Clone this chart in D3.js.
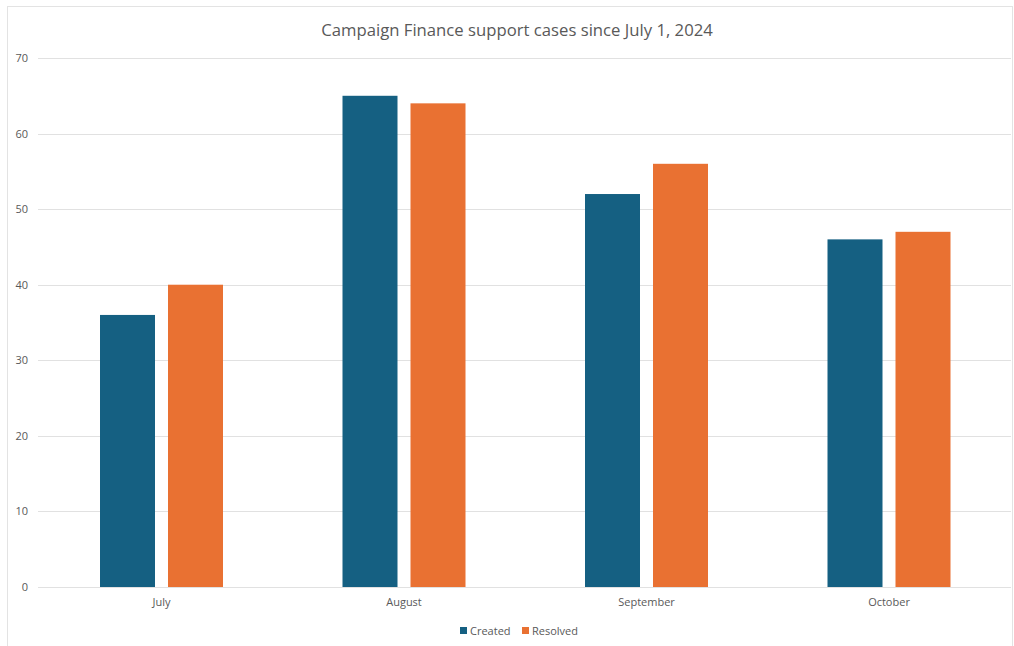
<!DOCTYPE html>
<html><head><meta charset="utf-8">
<script src="https://cdn.jsdelivr.net/npm/d3@7"></script>
<style>body{margin:0;background:#fff;}svg{display:block;}</style>
</head><body>
<svg id="c" width="1014" height="646"></svg>
<script>
const categories = ["July", "August", "September", "October"];
const seriesNames = ["Created", "Resolved"];
const created = [36, 65, 52, 46];
const resolved = [40, 64, 56, 47];
const yTicks = [0, 10, 20, 30, 40, 50, 60, 70];
const colors = ["#156082", "#E97132"];
const font = "'Open Sans', sans-serif";

const svg = d3.select("#c");
svg.append("rect").attr("x", 7.5).attr("y", 6.5).attr("width", 1005).attr("height", 650)
  .attr("fill", "#fff").attr("stroke", "#e3e3e3");

const x0 = d3.scaleBand().domain(categories).range([40.25, 1010.25]).paddingInner(0).paddingOuter(0);
const y = d3.scaleLinear().domain([0, 70]).range([587, 58]);

const grid = svg.append("g");
grid.selectAll("line").data(yTicks).join("line")
  .attr("x1", 38).attr("x2", 1011)
  .attr("y1", d => Math.round(y(d)) + 0.5).attr("y2", d => Math.round(y(d)) + 0.5)
  .attr("stroke", "#e1e1e1").attr("stroke-width", 1);

const yAxis = d3.axisLeft(y).tickValues(yTicks).tickSize(0).tickPadding(0);
const ga = svg.append("g").attr("transform", "translate(28,0)").call(yAxis);
ga.select(".domain").remove();
ga.selectAll("text").attr("font-family", font).attr("font-size", 11).attr("fill", "#595959");

const xAxis = d3.axisBottom(x0).tickSize(0).tickPadding(0);
const gx = svg.append("g").attr("transform", "translate(0,598)").call(xAxis);
gx.select(".domain").remove();
gx.selectAll("text").attr("font-family", font).attr("font-size", 11).attr("fill", "#595959").attr("dy", "0.71em");

const barW = 55, gap = 13;
const data = categories.map((c, i) => ({c, vals: [created[i], resolved[i]]}));
const groups = svg.append("g").selectAll("g").data(data).join("g")
  .attr("transform", d => `translate(${x0(d.c) + x0.bandwidth() / 2},0)`);
groups.selectAll("rect").data(d => d.vals.map((v, k) => ({v, k}))).join("rect")
  .attr("x", d => d.k === 0 ? -(barW + gap / 2) : gap / 2)
  .attr("width", barW)
  .attr("y", d => y(d.v))
  .attr("height", d => y(0) - y(d.v))
  .attr("fill", d => colors[d.k]);

svg.append("text").attr("x", 517).attr("y", 36).attr("text-anchor", "middle")
  .attr("font-family", font).attr("font-size", 16.7).attr("fill", "#595959")
  .text("Campaign Finance support cases since July 1, 2024");

const legX = [460, 522];
const leg = svg.append("g").selectAll("g").data(seriesNames).join("g")
  .attr("transform", (d, i) => `translate(${legX[i]},627)`);
leg.append("rect").attr("width", 7).attr("height", 7).attr("fill", (d, i) => colors[i]);
leg.append("text").attr("x", 10).attr("y", 7.5).attr("font-family", font).attr("font-size", 11)
  .attr("fill", "#595959").text(d => d);
</script>
</body></html>
